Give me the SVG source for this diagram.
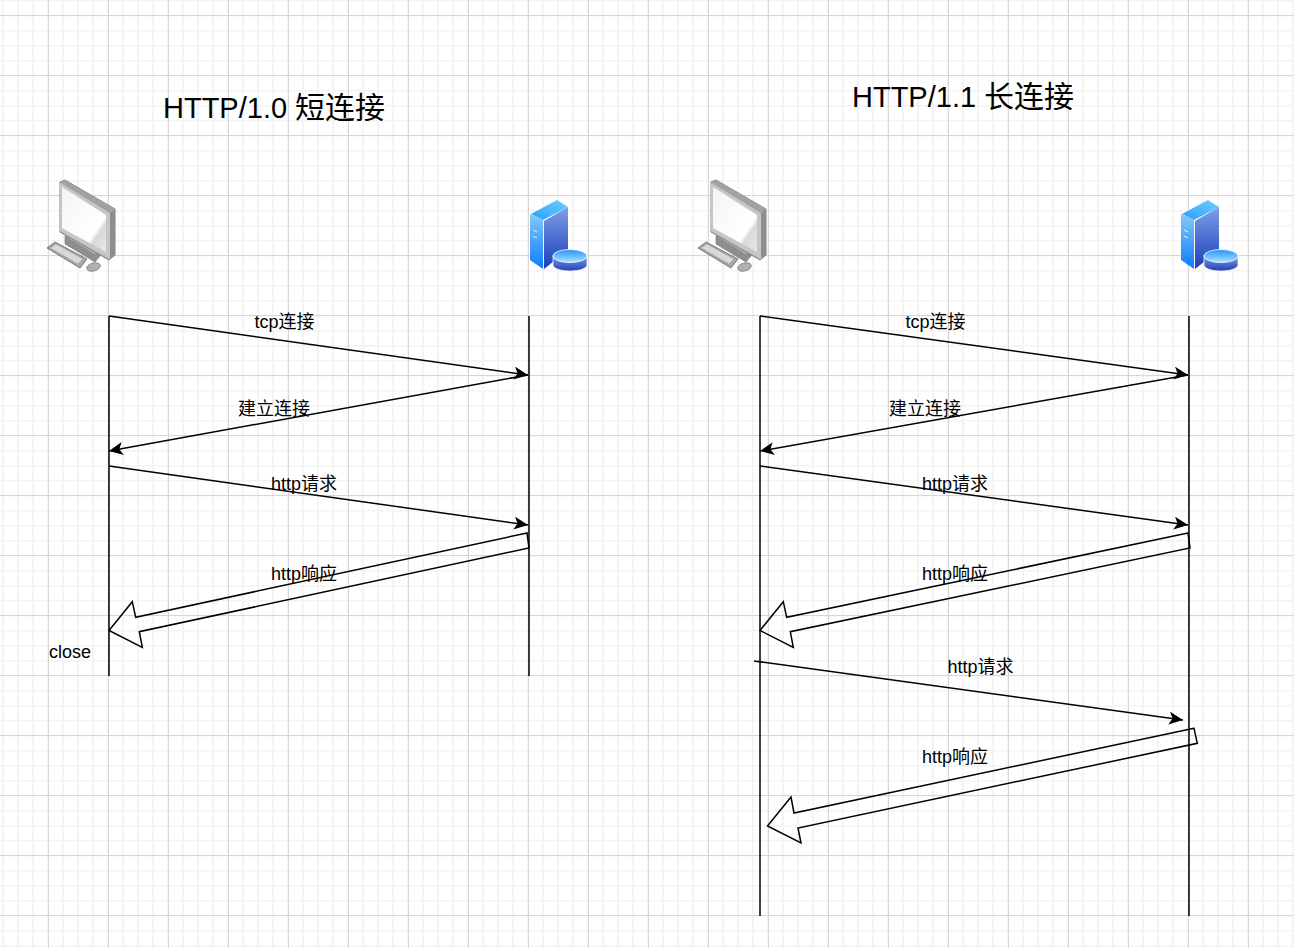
<svg xmlns="http://www.w3.org/2000/svg" width="1294" height="948" viewBox="0 0 1294 948">
<style>
text{font-family:"Liberation Sans","Noto Sans CJK SC",sans-serif;fill:#000}
.t{font-size:29px}
.z{font-size:30px}
.l{font-size:18px}
.c{fill:none;stroke:#000;stroke-width:1.5}
</style>
<defs>
<pattern id="minor" width="15" height="15" patternUnits="userSpaceOnUse" x="3" y="0"><path d="M0 0V15M15 0V15M0 .5H15" fill="none" stroke="#f4f4f4" stroke-width="2"/></pattern>
<pattern id="major" width="60" height="60" patternUnits="userSpaceOnUse" x="48" y="15"><path d="M.5 0V60M0 .5H60" fill="none" stroke="#d6d6d6" stroke-width="1"/></pattern>
<marker id="a" markerUnits="userSpaceOnUse" markerWidth="16" markerHeight="14" refX="14" refY="6.5" orient="auto"><path d="M0 0L14 6.5L0 13L3.5 6.5Z" fill="#000"/></marker>
<linearGradient id="sv" x1="0" y1="0" x2="0" y2="1"><stop offset="0" stop-color="#7f9fe8"/><stop offset="1" stop-color="#1a3fb8"/></linearGradient>
<linearGradient id="sl" x1="0" y1="0" x2="0" y2="1"><stop offset="0" stop-color="#86c8f8"/><stop offset="1" stop-color="#0b7cff"/></linearGradient>
<linearGradient id="st" x1="0" y1="1" x2="1" y2="0"><stop offset="0" stop-color="#2a9cff"/><stop offset="1" stop-color="#6ed0fb"/></linearGradient>
<linearGradient id="db" x1="0" y1="0" x2="0" y2="1"><stop offset="0" stop-color="#8aa2ea"/><stop offset="1" stop-color="#1f3fb5"/></linearGradient>
<linearGradient id="dt" x1="0" y1="0" x2="0" y2="1"><stop offset="0" stop-color="#2a90ff"/><stop offset="1" stop-color="#a8e6fb"/></linearGradient>
<linearGradient id="sc" x1="0" y1="0" x2="1" y2="1"><stop offset="0" stop-color="#f4f4f4"/><stop offset=".72" stop-color="#fff"/><stop offset=".78" stop-color="#d8d8d8"/><stop offset="1" stop-color="#e8e8e8"/></linearGradient>
<g id="pc">
<path d="M65 236L70 234L100 251V256L95 262L65 244Z" fill="#8e8e8e" stroke="#777" stroke-width=".6"/>
<path d="M67 237L70 235L98 251L95 254Z" fill="#b8b8b8"/>
<path d="M60 182L65 180L115 209V255L109 260L60 232Z" fill="#b4b4b4" stroke="#808080" stroke-width="1"/>
<path d="M60 183L110 213V259L60 231Z" fill="#c6c6c6"/>
<path d="M62 187L106 215V252L62 228Z" fill="url(#sc)"/>
<path d="M110 213L115 209V255L110 259Z" fill="#8d8d8d"/>
<path d="M60 182L65 180L115 209L110 213Z" fill="#a2a2a2"/>
<path d="M47 248L55 242L87 259L80 268Z" fill="#a8a8a8" stroke="#707070" stroke-width=".9"/>
<path d="M50 248L56 244L83 259L78 264Z" fill="#d8d8d8" stroke="#888" stroke-width=".7" stroke-dasharray="1.2 1"/>
<ellipse cx="93.500" cy="267" rx="7" ry="4" fill="#b0b0b0" stroke="#777" stroke-width=".7" transform="rotate(-15 93.500 267)"/>
</g>
<g id="srv">
<path d="M531 214L557 200L568 207L543 220Z" fill="url(#st)"/>
<path d="M530 214L543 220V269L530 260Z" fill="url(#sl)"/>
<path d="M544 221L568 207V250L544 269Z" fill="url(#sv)"/>
<path d="M533 230L537 232M533 236L537 238" stroke="#e6f2ff" stroke-width="1" fill="none"/>
<path d="M553 255V265C553 268 560 271 570 271C580 271 587 268 587 265V255Z" fill="url(#db)" stroke="#fff" stroke-width=".7"/>
<ellipse cx="570" cy="256" rx="17" ry="6.500" fill="url(#dt)" stroke="#fff" stroke-width=".8"/>
</g>
</defs>
<rect width="1294" height="948" fill="#fff"/>
<rect width="1294" height="948" fill="url(#minor)"/>
<rect width="1294" height="948" fill="url(#major)"/>
<g id="title-left"><text class="t" x="163" y="118">HTTP/1.0 <tspan class="z" x="295">短连接</tspan></text></g>
<g id="title-right"><text class="t" x="852" y="107">HTTP/1.1 <tspan class="z" x="984">长连接</tspan></text></g>
<g id="client-left"><use href="#pc"/></g>
<g id="server-left"><use href="#srv"/></g>
<g id="client-right"><use href="#pc" x="651"/></g>
<g id="server-right"><use href="#srv" x="651"/></g>
<g id="connectors">
<path class="c" d="M109 316V676"/>
<path class="c" d="M529 316V676"/>
<path class="c" d="M760 316V916"/>
<path class="c" d="M1189 316V916"/>
<path class="c" marker-end="url(#a)" d="M109 316L528 375"/>
<path class="c" marker-end="url(#a)" d="M528 375L109 451"/>
<path class="c" marker-end="url(#a)" d="M109 466L528 525"/>
<path class="c" d="M527 533L135.700 617.300L132.300 601.700L109 630.500L142.300 647.300L139.300 631.700L529 548Z"/>
<path class="c" marker-end="url(#a)" d="M760 316L1188 375"/>
<path class="c" marker-end="url(#a)" d="M1188 375L760 451"/>
<path class="c" marker-end="url(#a)" d="M760 466L1188 525"/>
<path class="c" d="M1188 533L786.700 617.300L783.300 601.700L760 630.500L793.300 647.300L790.300 631.700L1190 548Z"/>
<path class="c" marker-end="url(#a)" d="M754 661L1183 720"/>
<path class="c" d="M1194 728.300L794 813L791 797L767.500 826L801 843L798 828L1197.300 743.300Z"/>
</g>
<g id="labels">
<text class="l" x="254.500" y="328">tcp连接</text>
<text class="l" x="238" y="415">建立连接</text>
<text class="l" x="271" y="490">http请求</text>
<text class="l" x="271" y="580">http响应</text>
<text class="l" x="49" y="658">close</text>
<text class="l" x="905.500" y="328">tcp连接</text>
<text class="l" x="889" y="415">建立连接</text>
<text class="l" x="922" y="490">http请求</text>
<text class="l" x="922" y="580">http响应</text>
<text class="l" x="947.500" y="673">http请求</text>
<text class="l" x="922" y="763">http响应</text>
</g>
</svg>
